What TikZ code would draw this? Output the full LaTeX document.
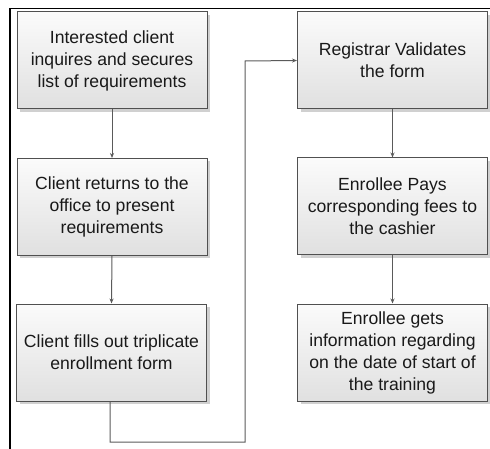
\documentclass[tikz,border=0pt]{standalone}
\usepackage{fontspec}
\setmainfont{Liberation Sans}
\usetikzlibrary{arrows.meta,shadows}
\definecolor{edgegray}{HTML}{505050}
\definecolor{linegray}{HTML}{5A5A5A}
\definecolor{shadowgray}{HTML}{D0D0D0}
\definecolor{boxtop}{HTML}{FBFBFB}
\definecolor{boxbottom}{HTML}{E0E0E0}
\tikzset{
  stepbox/.style={draw=edgegray, line width=1pt,
    top color=boxtop, bottom color=boxbottom,
    minimum width=190pt, minimum height=97pt, inner sep=0pt,
    align=center, text=black!90,
    font=\fontsize{17.6}{22}\selectfont,
    drop shadow={shadow xshift=3pt, shadow yshift=-3pt, fill=shadowgray, opacity=1}},
  flow/.style={draw=linegray, line width=1pt,
    -{Stealth[length=5pt,width=4pt]}}
}
\begin{document}
\begin{tikzpicture}[x=1pt,y=-1pt]
\useasboundingbox (0,0) rectangle (490,449);
% outer frame: top and left edges only
\draw[black, line width=1.8pt] (10,449) -- (10,8.5) -- (490,8.5);

% left column
\node[stepbox] (a) at (112,60.5) {Interested client\\inquires and secures\\list of requirements};
\node[stepbox] (b) at (112,207) {Client returns to the\\office to present\\requirements};
\node[stepbox] (c) at (111.5,352.5) {Client fills out triplicate\\enrollment form};

% right column
\node[stepbox] (d) at (392.5,60.5) {Registrar Validates\\the form};
\node[stepbox] (e) at (392.5,206.5) {Enrollee Pays\\corresponding fees to\\the cashier};
\node[stepbox] (f) at (392.5,352.5) {Enrollee gets\\information regarding\\on the date of start of\\the training};

% connectors
\draw[flow] (a.south) -- (b.north);
\draw[flow] (b.south) -- (c.north);
\coordinate (c1) at (110,442);
\coordinate (c2) at (245,442);
\coordinate (c3) at (245,61);
\draw[flow] (c.south -| c1) -- (c1) -- (c2) -- (c3) -- (d.west);
\draw[flow] (d.south) -- (e.north);
\draw[flow] (e.south) -- (f.north);
\end{tikzpicture}
\end{document}
